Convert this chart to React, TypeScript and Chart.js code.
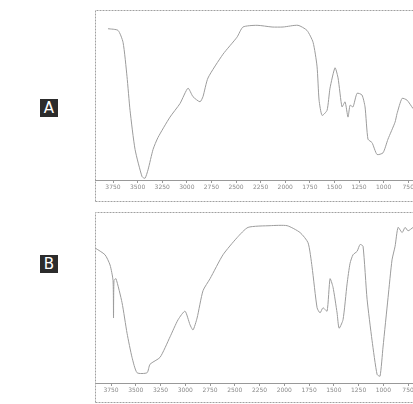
import React, { useEffect, useRef } from "react";
import { Chart, registerables } from "chart.js";

Chart.register(...registerables);

const TICKS = [3750, 3500, 3250, 3000, 2750, 2500, 2250, 2000, 1750, 1500, 1250, 1000, 750];

const A_WN = [3801, 3699, 3648, 3608, 3577, 3526, 3455, 3425, 3394, 3343, 3293, 3171, 3069, 2988, 2937, 2866, 2836, 2785, 2632, 2490, 2429, 2286, 2134, 2022, 1870, 1779, 1717, 1677, 1656, 1626, 1575, 1545, 1494, 1463, 1423, 1392, 1362, 1341, 1311, 1270, 1220, 1189, 1159, 1118, 1067, 1006, 956, 884, 864, 813, 763, 701];
const A_T = [89, 88, 81, 61, 41, 18, 2, 1, 6, 18, 25, 37, 45, 54, 49, 46, 49, 60, 74, 84, 90, 91, 90, 90, 91, 88, 81, 67, 47, 38, 41, 54, 66, 60, 43, 46, 37, 44, 43, 51, 50, 43, 24, 22, 15, 16, 24, 34, 39, 48, 47, 42];

const B_WN = [3912, 3811, 3760, 3730, 3725, 3720, 3700, 3639, 3588, 3538, 3487, 3386, 3356, 3255, 3154, 3073, 3003, 2952, 2922, 2881, 2821, 2750, 2619, 2477, 2366, 2144, 1972, 1841, 1760, 1720, 1669, 1639, 1609, 1568, 1538, 1508, 1467, 1447, 1407, 1366, 1336, 1306, 1265, 1235, 1205, 1164, 1114, 1063, 1033, 1003, 952, 912, 881, 851, 810, 780, 750, 699];
const B_T = [79, 75, 69, 60, 38, 60, 61, 47, 29, 15, 6, 6, 11, 15, 27, 37, 42, 34, 31, 38, 54, 61, 75, 85, 91, 92, 92, 88, 82, 68, 44, 41, 44, 42, 61, 56, 41, 32, 37, 58, 70, 75, 77, 81, 80, 49, 25, 5, 4, 21, 50, 72, 80, 91, 88, 91, 89, 91];

type PanelProps = {
  wn: number[];
  t: number[];
  left: number;
  top: number;
  height: number;
  axisH: number;
  xMax: number;
  xMin: number;
};

const boxPlugin = {
  id: "frameBox",
  afterDraw(chart: any) {
    const ctx = chart.ctx;
    const a = chart.chartArea;
    ctx.save();
    ctx.strokeStyle = "#a0a0a0";
    ctx.lineWidth = 1;
    ctx.setLineDash([2, 1]);
    ctx.beginPath();
    ctx.moveTo(a.left + 0.5, chart.height - 1.5);
    ctx.lineTo(a.left + 0.5, 0.5);
    ctx.lineTo(chart.width + 5, 0.5);
    ctx.moveTo(a.left + 0.5, chart.height - 1.5);
    ctx.lineTo(chart.width + 5, chart.height - 1.5);
    ctx.stroke();
    ctx.restore();
  },
};

function Panel({ wn, t, left, top, height, axisH, xMax, xMin }: PanelProps) {
  const ref = useRef<HTMLCanvasElement | null>(null);
  useEffect(() => {
    if (!ref.current) return;
    const chart = new Chart(ref.current, {
      type: "line",
      data: {
        datasets: [
          {
            data: wn.map((w, i) => ({ x: w, y: t[i] })),
            borderColor: "#9c9c9c",
            borderWidth: 1,
            pointRadius: 0,
            tension: 0.2,
            fill: false,
          },
        ],
      },
      options: {
        responsive: false,
        animation: false,
        events: [],
        layout: { padding: 0 },
        plugins: { legend: { display: false }, tooltip: { enabled: false }, title: { display: false } },
        scales: {
          x: {
            type: "linear",
            reverse: true,
            min: xMin,
            max: xMax,
            afterBuildTicks: (s: any) => {
              s.ticks = TICKS.map((v) => ({ value: v }));
            },
            afterFit: (s: any) => {
              s.height = axisH;
            },
            grid: { display: true, drawOnChartArea: false, drawTicks: true, tickLength: 3, color: "#999" },
            border: { display: true, color: "#999", width: 1 },
            ticks: {
              autoSkip: false,
              maxRotation: 0,
              padding: 1,
              color: "#8a8a8a",
              font: { size: 6, family: "DejaVu Sans" },
              callback: (v: any) => String(v),
            },
          },
          y: {
            display: false,
            min: 0,
            max: 100,
          },
        },
      },
      plugins: [boxPlugin],
    } as any);
    return () => chart.destroy();
  }, []);
  return (
    <canvas
      ref={ref}
      width={340}
      height={height}
      style={{ position: "absolute", left, top, width: 340, height }}
    />
  );
}

function Label({ text, top }: { text: string; top: number }) {
  return (
    <div
      style={{
        position: "absolute",
        left: 40,
        top,
        width: 18,
        height: 18,
        backgroundColor: "#555",
        backgroundImage: "radial-gradient(#2a2a2a 0.7px, transparent 0.9px)",
        backgroundSize: "2px 2px",
        color: "#fff",
        fontFamily: "DejaVu Sans, sans-serif",
        fontSize: 15,
        lineHeight: "18px",
        textAlign: "center",
      }}
    >
      {text}
    </div>
  );
}

export default function App() {
  return (
    <div
      style={{
        position: "fixed",
        left: 0,
        top: 0,
        width: 413,
        height: 404,
        overflow: "hidden",
        background: "#fff",
      }}
    >
      <Label text="A" top={99} />
      <Label text="B" top={255} />
      <Panel wn={A_WN} t={A_T} left={95} top={10} height={193} axisH={23} xMax={3933} xMin={478} />
      <Panel wn={B_WN} t={B_T} left={95} top={212} height={192} axisH={21} xMax={3912} xMin={478} />
    </div>
  );
}
